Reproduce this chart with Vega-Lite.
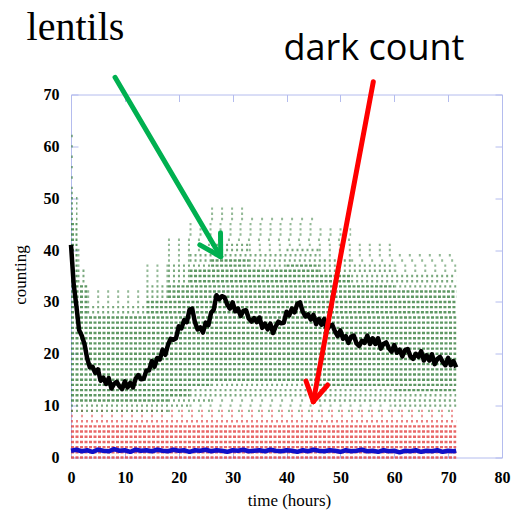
{
 "$schema": "https://vega.github.io/schema/vega-lite/v6.json",
 "width": 431,
 "height": 363,
 "autosize": {"type": "none"},
 "padding": {"left": 71, "top": 94.5, "right": 18, "bottom": 53.5},
 "background": "white",
 "config": {"view": {"stroke": null}},
 "datasets": {
  "red": [
   {"y":0,"x":0,"x2":71.5,"c":"D"},{"y":1,"x":0,"x2":71.5,"c":"D"},{"y":2,"x":0,"x2":71.5,"c":"D"},{"y":3,"x":0,"x2":71.5,"c":"D"},
   {"y":4,"x":0,"x2":71.5,"c":"D"},{"y":5,"x":0,"x2":71.5,"c":"D"},{"y":6,"x":0,"x2":71.5,"c":"D"},{"y":7,"x":0,"x2":71.5,"c":"M"},
   {"y":8,"x":0,"x2":71.5,"c":"S"},{"y":9,"x":0,"x2":71.5,"c":"S"}
  ],
  "green": [
   {"y":9,"x":0,"x2":18,"c":"M"},{"y":9,"x":18,"x2":71.5,"c":"S"},
   {"y":10,"x":0,"x2":22,"c":"M"},{"y":10,"x":22,"x2":60,"c":"S"},{"y":10,"x":60,"x2":71.5,"c":"M"},
   {"y":11,"x":0,"x2":18,"c":"D"},{"y":11,"x":18,"x2":26,"c":"M"},{"y":11,"x":26,"x2":46,"c":"S"},{"y":11,"x":46,"x2":71.5,"c":"M"},
   {"y":12,"x":0,"x2":22,"c":"D"},{"y":12,"x":22,"x2":71.5,"c":"M"},
   {"y":13,"x":0,"x2":22,"c":"D"},{"y":13,"x":22,"x2":60,"c":"M"},{"y":13,"x":60,"x2":71.5,"c":"D"},
   {"y":14,"x":0,"x2":26,"c":"D"},{"y":14,"x":26,"x2":46,"c":"M"},{"y":14,"x":46,"x2":71.5,"c":"D"},
   {"y":15,"x":0,"x2":71.5,"c":"D"},{"y":16,"x":0,"x2":71.5,"c":"D"},{"y":17,"x":0,"x2":71.5,"c":"D"},{"y":18,"x":0,"x2":71.5,"c":"D"},
   {"y":19,"x":0,"x2":71.5,"c":"D"},{"y":20,"x":0,"x2":71.5,"c":"D"},{"y":21,"x":0,"x2":71.5,"c":"D"},{"y":22,"x":0,"x2":71.5,"c":"D"},
   {"y":23,"x":0,"x2":71.5,"c":"D"},{"y":24,"x":0,"x2":71.5,"c":"D"},{"y":25,"x":0,"x2":71.5,"c":"D"},{"y":26,"x":0,"x2":71.5,"c":"D"},
   {"y":27,"x":0,"x2":71.5,"c":"D"},
   {"y":28,"x":0,"x2":3,"c":"D"},{"y":28,"x":3,"x2":14,"c":"M"},{"y":28,"x":14,"x2":71.5,"c":"D"},
   {"y":29,"x":0,"x2":3,"c":"D"},{"y":29,"x":3,"x2":14,"c":"M"},{"y":29,"x":14,"x2":71.5,"c":"D"},
   {"y":30,"x":0,"x2":3,"c":"D"},{"y":30,"x":3,"x2":14,"c":"S"},{"y":30,"x":14,"x2":71.5,"c":"D"},
   {"y":31,"x":0,"x2":3,"c":"D"},{"y":31,"x":3,"x2":14,"c":"S"},{"y":31,"x":14,"x2":18,"c":"M"},{"y":31,"x":18,"x2":71.5,"c":"D"},
   {"y":32,"x":0,"x2":3,"c":"D"},{"y":32,"x":3,"x2":14,"c":"S"},{"y":32,"x":14,"x2":18,"c":"M"},{"y":32,"x":18,"x2":71.5,"c":"D"},
   {"y":33,"x":0,"x2":3,"c":"D"},{"y":33,"x":14,"x2":18,"c":"M"},{"y":33,"x":18,"x2":60,"c":"D"},{"y":33,"x":60,"x2":71.5,"c":"M"},
   {"y":34,"x":0,"x2":1.2,"c":"D"},{"y":34,"x":1.2,"x2":3,"c":"M"},{"y":34,"x":14,"x2":18,"c":"S"},{"y":34,"x":18,"x2":22,"c":"M"},{"y":34,"x":22,"x2":52,"c":"D"},{"y":34,"x":52,"x2":71.5,"c":"M"},
   {"y":35,"x":0,"x2":1.2,"c":"D"},{"y":35,"x":1.2,"x2":3,"c":"M"},{"y":35,"x":14,"x2":18,"c":"S"},{"y":35,"x":18,"x2":22,"c":"M"},{"y":35,"x":22,"x2":52,"c":"D"},{"y":35,"x":52,"x2":71.5,"c":"M"},
   {"y":36,"x":0,"x2":1.2,"c":"D"},{"y":36,"x":1.2,"x2":3,"c":"M"},{"y":36,"x":14,"x2":18,"c":"S"},{"y":36,"x":18,"x2":22,"c":"M"},{"y":36,"x":22,"x2":46,"c":"D"},{"y":36,"x":46,"x2":60,"c":"M"},{"y":36,"x":60,"x2":71.5,"c":"S"},
   {"y":37,"x":0,"x2":1.2,"c":"D"},{"y":37,"x":1.2,"x2":3,"c":"S"},{"y":37,"x":14,"x2":18,"c":"S"},{"y":37,"x":18,"x2":26,"c":"M"},{"y":37,"x":26,"x2":33,"c":"D"},{"y":37,"x":33,"x2":40,"c":"M"},{"y":37,"x":40,"x2":46,"c":"D"},{"y":37,"x":46,"x2":60,"c":"M"},{"y":37,"x":60,"x2":71.5,"c":"S"},
   {"y":38,"x":0,"x2":1.2,"c":"D"},{"y":38,"x":1.2,"x2":3,"c":"S"},{"y":38,"x":18,"x2":22,"c":"S"},{"y":38,"x":22,"x2":26,"c":"M"},{"y":38,"x":26,"x2":33,"c":"D"},{"y":38,"x":33,"x2":52,"c":"M"},{"y":38,"x":52,"x2":71.5,"c":"S"},
   {"y":39,"x":0,"x2":1.2,"c":"D"},{"y":39,"x":1.2,"x2":3,"c":"S"},{"y":39,"x":18,"x2":22,"c":"S"},{"y":39,"x":22,"x2":46,"c":"M"},{"y":39,"x":46,"x2":71.5,"c":"S"},
   {"y":40,"x":0,"x2":1.2,"c":"D"},{"y":40,"x":1.2,"x2":3,"c":"S"},{"y":40,"x":18,"x2":26,"c":"S"},{"y":40,"x":26,"x2":33,"c":"M"},{"y":40,"x":33,"x2":40,"c":"S"},{"y":40,"x":40,"x2":46,"c":"M"},{"y":40,"x":46,"x2":60,"c":"S"},
   {"y":41,"x":0,"x2":1.2,"c":"D"},{"y":41,"x":18,"x2":26,"c":"S"},{"y":41,"x":26,"x2":33,"c":"M"},{"y":41,"x":33,"x2":60,"c":"S"},
   {"y":42,"x":0,"x2":1.2,"c":"D"},{"y":42,"x":18,"x2":52,"c":"S"},
   {"y":43,"x":0,"x2":1.2,"c":"D"},{"y":43,"x":22,"x2":52,"c":"S"},
   {"y":44,"x":0,"x2":1.2,"c":"D"},{"y":44,"x":22,"x2":52,"c":"S"},
   {"y":45,"x":0,"x2":1.2,"c":"D"},{"y":45,"x":22,"x2":46,"c":"S"},
   {"y":46,"x":0,"x2":1.2,"c":"M"},{"y":46,"x":26,"x2":46,"c":"S"},
   {"y":47,"x":0,"x2":1.2,"c":"M"},{"y":47,"x":26,"x2":33,"c":"S"},
   {"y":48,"x":0,"x2":1.2,"c":"M"},{"y":48,"x":26,"x2":33,"c":"S"},
   {"y":49,"x":0,"x2":1.2,"c":"M"},{"y":50,"x":0,"x2":1.2,"c":"M"},
   {"y":51,"x":0,"x2":1.2,"c":"S"},{"y":52,"x":0,"x2":1.2,"c":"S"},{"y":54,"x":0,"x2":1.2,"c":"S"},{"y":56,"x":0,"x2":1.2,"c":"S"},
   {"y":58,"x":0,"x2":1.2,"c":"S"},{"y":60,"x":0,"x2":1.2,"c":"S"},{"y":62,"x":0,"x2":1.2,"c":"S"}
  ],
  "blue": [
   {"x":0,"y":1.3},{"x":1,"y":1.5},{"x":2,"y":1.2},{"x":3,"y":1.4},{"x":4,"y":1.1},{"x":5,"y":1.5},{"x":6,"y":1.3},{"x":7,"y":1.2},
   {"x":8,"y":1.6},{"x":9,"y":1.3},{"x":10,"y":1.4},{"x":11,"y":1.1},{"x":12,"y":1.5},{"x":13,"y":1.3},{"x":14,"y":1.4},{"x":15,"y":1.2},
   {"x":16,"y":1.5},{"x":17,"y":1.3},{"x":18,"y":1.2},{"x":19,"y":1.5},{"x":20,"y":1.3},{"x":21,"y":1.4},{"x":22,"y":1.1},{"x":23,"y":1.4},
   {"x":24,"y":1.3},{"x":25,"y":1.5},{"x":26,"y":1.2},{"x":27,"y":1.4},{"x":28,"y":1.3},{"x":29,"y":1.1},{"x":30,"y":1.4},{"x":31,"y":1.3},
   {"x":32,"y":1.5},{"x":33,"y":1.2},{"x":34,"y":1.3},{"x":35,"y":1.4},{"x":36,"y":1.2},{"x":37,"y":1.5},{"x":38,"y":1.3},{"x":39,"y":1.2},
   {"x":40,"y":1.4},{"x":41,"y":1.3},{"x":42,"y":1.1},{"x":43,"y":1.4},{"x":44,"y":1.2},{"x":45,"y":1.5},{"x":46,"y":1.3},{"x":47,"y":1.2},
   {"x":48,"y":1.4},{"x":49,"y":1.3},{"x":50,"y":1.1},{"x":51,"y":1.4},{"x":52,"y":1.2},{"x":53,"y":1.3},{"x":54,"y":1.5},{"x":55,"y":1.2},
   {"x":56,"y":1.3},{"x":57,"y":1.1},{"x":58,"y":1.4},{"x":59,"y":1.2},{"x":60,"y":1.3},{"x":61,"y":1.0},{"x":62,"y":1.3},{"x":63,"y":1.2},
   {"x":64,"y":1.4},{"x":65,"y":1.1},{"x":66,"y":1.3},{"x":67,"y":1.2},{"x":68,"y":1.4},{"x":69,"y":1.1},{"x":70,"y":1.3},{"x":71,"y":1.2},{"x":71.5,"y":1.3}
  ],
  "black": [
   {"x":0,"y":41},{"x":0.5,"y":33.4},{"x":1,"y":29.2},{"x":1.5,"y":24.6},{"x":2,"y":23.5},{"x":2.5,"y":21.9},{"x":3,"y":19.1},{"x":3.5,"y":17.4},
   {"x":4,"y":17.5},{"x":4.5,"y":16.3},{"x":5,"y":17.0},{"x":5.5,"y":14.8},{"x":6,"y":15.4},{"x":6.5,"y":14.2},{"x":7,"y":15.3},{"x":7.5,"y":13.3},
   {"x":8,"y":14.2},{"x":8.5,"y":14.6},{"x":9,"y":13.7},{"x":9.5,"y":13.2},{"x":10,"y":14.7},{"x":10.5,"y":13.5},{"x":11,"y":14.4},{"x":11.5,"y":13.5},
   {"x":12,"y":15.2},{"x":12.5,"y":15.9},{"x":13,"y":15.1},{"x":13.5,"y":15.2},{"x":14,"y":16.8},{"x":14.5,"y":16.8},{"x":15,"y":18.6},{"x":15.5,"y":17.5},
   {"x":16,"y":19.2},{"x":16.5,"y":18.9},{"x":17,"y":20.8},{"x":17.5,"y":19.8},{"x":18,"y":21.7},{"x":18.5,"y":22.9},{"x":19,"y":22.7},{"x":19.5,"y":23.0},
   {"x":20,"y":25.3},{"x":20.5,"y":24.9},{"x":21,"y":26.5},{"x":21.5,"y":26.1},{"x":22,"y":28.5},{"x":22.5,"y":28.7},{"x":23,"y":26.1},{"x":23.5,"y":24.7},
   {"x":24,"y":25.1},{"x":24.5,"y":24.1},{"x":25,"y":26.0},{"x":25.5,"y":25.5},{"x":26,"y":27.9},{"x":26.5,"y":28.5},{"x":27,"y":31.3},{"x":27.5,"y":30.5},
   {"x":28,"y":31.1},{"x":28.5,"y":30.9},{"x":29,"y":29.5},{"x":29.5,"y":28.7},{"x":30,"y":29.9},{"x":30.5,"y":28.2},{"x":31,"y":28.7},{"x":31.5,"y":27.3},
   {"x":32,"y":28.3},{"x":32.5,"y":28.4},{"x":33,"y":26.8},{"x":33.5,"y":26.2},{"x":34,"y":26.9},{"x":34.5,"y":26.1},{"x":35,"y":27.0},{"x":35.5,"y":25.0},
   {"x":36,"y":25.8},{"x":36.5,"y":24.7},{"x":37,"y":25.8},{"x":37.5,"y":24.0},{"x":38,"y":25.3},{"x":38.5,"y":26.2},{"x":39,"y":25.9},{"x":39.5,"y":26.0},
   {"x":40,"y":28.1},{"x":40.5,"y":27.4},{"x":41,"y":28.7},{"x":41.5,"y":28.0},{"x":42,"y":29.6},{"x":42.5,"y":29.9},{"x":43,"y":28.2},{"x":43.5,"y":27.2},
   {"x":44,"y":27.6},{"x":44.5,"y":26.6},{"x":45,"y":27.5},{"x":45.5,"y":25.7},{"x":46,"y":26.7},{"x":46.5,"y":25.6},{"x":47,"y":26.7},{"x":47.5,"y":24.6},
   {"x":48,"y":25.4},{"x":48.5,"y":25.6},{"x":49,"y":24.3},{"x":49.5,"y":23.4},{"x":50,"y":24.5},{"x":50.5,"y":22.9},{"x":51,"y":23.4},{"x":51.5,"y":22.1},
   {"x":52,"y":23.3},{"x":52.5,"y":23.5},{"x":53,"y":22.0},{"x":53.5,"y":21.5},{"x":54,"y":22.5},{"x":54.5,"y":22.1},{"x":55,"y":23.5},{"x":55.5,"y":21.9},
   {"x":56,"y":23.0},{"x":56.5,"y":21.9},{"x":57,"y":23.0},{"x":57.5,"y":21.0},{"x":58,"y":21.9},{"x":58.5,"y":22.2},{"x":59,"y":21.1},{"x":59.5,"y":20.4},
   {"x":60,"y":21.7},{"x":60.5,"y":20.2},{"x":61,"y":20.8},{"x":61.5,"y":19.5},{"x":62,"y":20.7},{"x":62.5,"y":20.9},{"x":63,"y":19.5},{"x":63.5,"y":19.0},
   {"x":64,"y":20.0},{"x":64.5,"y":19.4},{"x":65,"y":20.5},{"x":65.5,"y":18.7},{"x":66,"y":19.7},{"x":66.5,"y":18.7},{"x":67,"y":19.9},{"x":67.5,"y":18.0},
   {"x":68,"y":19.0},{"x":68.5,"y":19.4},{"x":69,"y":18.4},{"x":69.5,"y":17.8},{"x":70,"y":19.2},{"x":70.5,"y":17.8},{"x":71,"y":18.6},{"x":71.5,"y":17.4}
  ],
  "arrows": [
   {"a":"lentils","x":8.17,"y":73.32,"x2":27.79,"y2":38.72},
   {"a":"lentils","x":27.79,"y":38.72,"x2":27.75,"y2":43.35},
   {"a":"lentils","x":27.79,"y":38.72,"x2":23.91,"y2":41.0},
   {"a":"dark","x":56.11,"y":72.47,"x2":44.97,"y2":10.76},
   {"a":"dark","x":44.97,"y":10.76,"x2":43.62,"y2":14.75},
   {"a":"dark","x":44.97,"y":10.76,"x2":47.63,"y2":13.98}
  ],
  "serifText": [{"x":0.83,"y":80.6,"t":"lentils"}],
  "sansText": [{"x":56.24,"y":76.65,"t":"dark count"}]
 },
 "resolve": {"axis": {"x": "independent", "y": "independent"}},
 "layer": [
  {
   "data": {"name": "red"},
   "mark": {"type": "rule", "color": "#e03434", "strokeWidth": 2.4},
   "encoding": {
    "x": {"field": "x", "type": "quantitative",
     "scale": {"domain": [0, 80], "nice": false, "zero": false},
     "axis": {"orient": "bottom", "values": [0,10,20,30,40,50,60,70,80], "title": "time (hours)", "grid": false,
      "domainColor": "#b4bcee", "tickColor": "#b4bcee", "tickSize": -7, "labelPadding": 19,
      "labelFont": "Liberation Serif", "labelFontWeight": "bold", "labelFontSize": 16, "labelColor": "#000", "labelFlush": false,
      "titleFont": "Liberation Serif", "titleFontWeight": "normal", "titleFontSize": 17, "titleColor": "#000",
      "titleX": 218, "titleY": 47.5, "titleBaseline": "alphabetic", "titleAlign": "center"}},
    "x2": {"field": "x2"},
    "y": {"field": "y", "type": "quantitative",
     "scale": {"domain": [0, 70], "nice": false, "zero": false},
     "axis": {"orient": "left", "values": [0,10,20,30,40,50,60,70], "title": "counting", "grid": false,
      "domainColor": "#b4bcee", "tickColor": "#b4bcee", "tickSize": -7, "labelPadding": 19,
      "labelFont": "Liberation Serif", "labelFontWeight": "bold", "labelFontSize": 16, "labelColor": "#000",
      "titleFont": "Liberation Serif", "titleFontWeight": "normal", "titleFontSize": 17, "titleColor": "#000",
      "titleX": -46, "titleY": 180, "titleBaseline": "alphabetic", "titleAlign": "center"}},
    "strokeDash": {"field": "c", "type": "nominal", "scale": {"domain": ["D","M","S"], "range": [[3,1.5],[2,3],[2,8]]}, "legend": null},
    "opacity": {"field": "c", "type": "ordinal", "scale": {"domain": ["D","M","S"], "range": [0.75,0.5,0.35]}, "legend": null}
   }
  },
  {
   "data": {"name": "green"},
   "mark": {"type": "rule", "color": "#2a7530", "strokeWidth": 2.4},
   "encoding": {
    "x": {"field": "x", "type": "quantitative",
     "axis": {"orient": "top", "values": [0,10,20,30,40,50,60,70,80], "labels": false, "title": null, "grid": false,
      "domainColor": "#b4bcee", "tickColor": "#b4bcee", "tickSize": -7}},
    "x2": {"field": "x2"},
    "y": {"field": "y", "type": "quantitative",
     "axis": {"orient": "right", "values": [0,10,20,30,40,50,60,70], "labels": false, "title": null, "grid": false,
      "domainColor": "#b4bcee", "tickColor": "#b4bcee", "tickSize": -7}},
    "strokeDash": {"field": "c", "type": "nominal", "scale": {"domain": ["D","M","S"], "range": [[3,1.5],[2,3],[2,8]]}, "legend": null},
    "opacity": {"field": "c", "type": "ordinal", "scale": {"domain": ["D","M","S"], "range": [0.75,0.5,0.35]}, "legend": null}
   }
  },
  {
   "data": {"name": "blue"},
   "mark": {"type": "line", "color": "#1010c8", "strokeWidth": 4.5, "strokeJoin": "round"},
   "encoding": {
    "x": {"field": "x", "type": "quantitative", "axis": null},
    "y": {"field": "y", "type": "quantitative", "axis": null}
   }
  },
  {
   "data": {"name": "black"},
   "mark": {"type": "line", "color": "#000000", "strokeWidth": 4.5, "strokeJoin": "round"},
   "encoding": {
    "x": {"field": "x", "type": "quantitative", "axis": null},
    "y": {"field": "y", "type": "quantitative", "axis": null}
   }
  },
  {
   "data": {"name": "arrows"},
   "mark": {"type": "rule", "strokeWidth": 5, "strokeCap": "round"},
   "encoding": {
    "x": {"field": "x", "type": "quantitative", "axis": null},
    "y": {"field": "y", "type": "quantitative", "axis": null},
    "x2": {"field": "x2"},
    "y2": {"field": "y2"},
    "color": {"field": "a", "type": "nominal", "scale": {"domain": ["lentils","dark"], "range": ["#00b050","#ff0000"]}, "legend": null}
   }
  },
  {
   "data": {"name": "serifText"},
   "mark": {"type": "text", "font": "Liberation Serif", "fontSize": 40, "align": "center", "baseline": "alphabetic", "color": "#000"},
   "encoding": {
    "x": {"field": "x", "type": "quantitative", "axis": null},
    "y": {"field": "y", "type": "quantitative", "axis": null},
    "text": {"field": "t"}
   }
  },
  {
   "data": {"name": "sansText"},
   "mark": {"type": "text", "font": "Open Sans", "fontSize": 36, "align": "center", "baseline": "alphabetic", "color": "#000"},
   "encoding": {
    "x": {"field": "x", "type": "quantitative", "axis": null},
    "y": {"field": "y", "type": "quantitative", "axis": null},
    "text": {"field": "t"}
   }
  }
 ]
}
